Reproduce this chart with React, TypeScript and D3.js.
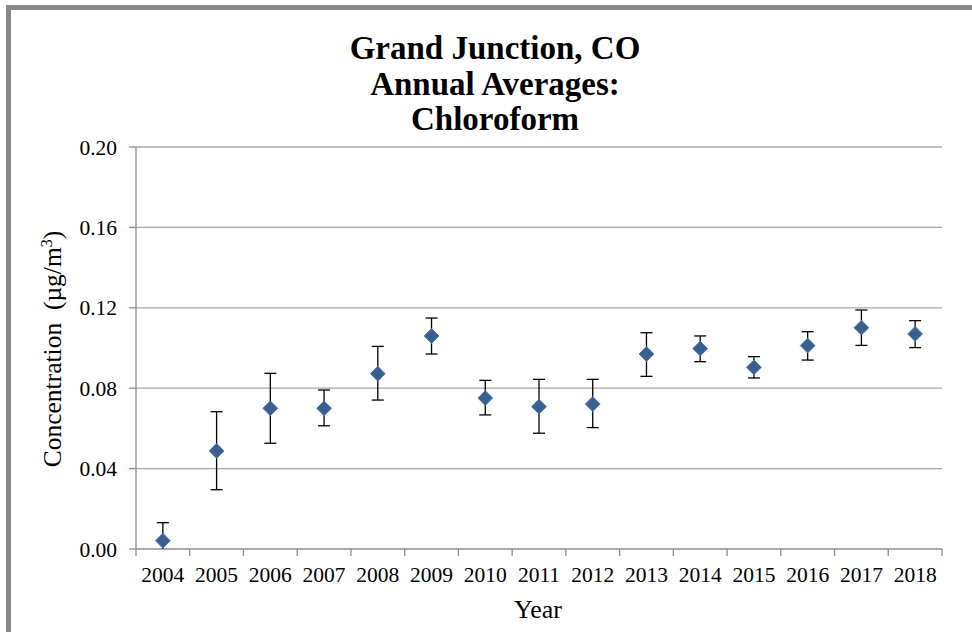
import React from "react";
import * as d3 from "d3";

const years = ["2004","2005","2006","2007","2008","2009","2010","2011","2012","2013","2014","2015","2016","2017","2018"];
const means = [0.0041,0.0488,0.0700,0.0700,0.0872,0.1060,0.0751,0.0708,0.0721,0.0970,0.0997,0.0904,0.1012,0.1101,0.1070];
const upper = [0.0131,0.0683,0.0874,0.0791,0.1008,0.1149,0.0839,0.0844,0.0844,0.1076,0.1060,0.0957,0.1081,0.1189,0.1136];
const lower = [0.0000,0.0295,0.0526,0.0613,0.0741,0.0970,0.0667,0.0576,0.0604,0.0859,0.0932,0.0851,0.0940,0.1013,0.1002];
const yTicks = [0, 0.04, 0.08, 0.12, 0.16, 0.2];
const titleLines = ["Grand Junction, CO", "Annual Averages:", "Chloroform"];

const W = 972, H = 632;
const left = 136, right = 942, top = 147, bottom = 549;
const font = "'Liberation Serif', 'Times New Roman', serif";

export default function App() {
  const x = d3.scaleBand<string>().domain(years).range([left, right]).padding(0);
  const y = d3.scaleLinear().domain([0, 0.2]).range([bottom, top]);
  const cx = (yr: string) => (x(yr) as number) + x.bandwidth() / 2;
  const diamond = d3.symbol().type(d3.symbolDiamond2).size(140)();
  const boundaries = [...years.map((yr) => x(yr) as number), right];
  const capHalf = 6;

  return (
    <svg width={W} height={H} style={{ position: "absolute", left: 0, top: 0, background: "#fff" }} fontFamily={font}>
      <rect x={0} y={0} width={W} height={H} fill="#fff" />
      {/* frame */}
      <path d={`M8.5,${H + 10} L8.5,7.5 L${W + 10},7.5`} fill="none" stroke="#888" strokeWidth={5} />
      {/* title */}
      {titleLines.map((t, i) => (
        <text key={t} x={495} y={59 + i * 35.5} textAnchor="middle" fontSize={33} fontWeight="bold" fill="#000">{t}</text>
      ))}
      {/* gridlines */}
      {yTicks.filter((v) => v > 0).map((v) => (
        <line key={v} x1={left} x2={right} y1={y(v)} y2={y(v)} stroke="#a6a6a6" strokeWidth={1.3} />
      ))}
      {/* y axis */}
      <line x1={left} x2={left} y1={top} y2={bottom} stroke="#8c8c8c" strokeWidth={1.3} />
      {yTicks.map((v) => (
        <g key={"yt" + v}>
          <line x1={left - 7} x2={left} y1={y(v)} y2={y(v)} stroke="#8c8c8c" strokeWidth={1.3} />
          <text x={117} y={y(v) + 7.5} textAnchor="end" fontSize={21.5} fill="#000">{d3.format(".2f")(v)}</text>
        </g>
      ))}
      {/* x axis */}
      <line x1={left} x2={right} y1={bottom} y2={bottom} stroke="#8c8c8c" strokeWidth={1.3} />
      {boundaries.map((bx, i) => (
        <line key={"xt" + i} x1={bx} x2={bx} y1={bottom} y2={bottom + 7} stroke="#8c8c8c" strokeWidth={1.3} />
      ))}
      {years.map((yr) => (
        <text key={"xl" + yr} x={cx(yr)} y={582} textAnchor="middle" fontSize={21.5} fill="#000">{yr}</text>
      ))}
      {/* axis titles */}
      <text x={538} y={618} textAnchor="middle" fontSize={26} fill="#000">Year</text>
      <text transform={`translate(61,349) rotate(-90)`} textAnchor="middle" fontSize={25.5} fill="#000" xmlSpace="preserve">
        Concentration{"\u00a0\u00a0"}(µg/m<tspan dy={-9} fontSize={16}>3</tspan><tspan dy={9}>)</tspan>
      </text>
      {/* error bars */}
      {years.map((yr, i) => (
        <g key={"eb" + yr} stroke="#000" strokeWidth={1.3}>
          <line x1={cx(yr)} x2={cx(yr)} y1={y(upper[i])} y2={y(lower[i])} />
          <line x1={cx(yr) - capHalf} x2={cx(yr) + capHalf} y1={y(upper[i])} y2={y(upper[i])} />
          {lower[i] > 0 && <line x1={cx(yr) - capHalf} x2={cx(yr) + capHalf} y1={y(lower[i])} y2={y(lower[i])} />}
        </g>
      ))}
      {/* markers */}
      {years.map((yr, i) => (
        <path key={"m" + yr} d={diamond as string} transform={`translate(${cx(yr)},${y(means[i])})`} fill="#3A5F8E" stroke="#4F7DB8" strokeWidth={1} />
      ))}
    </svg>
  );
}
